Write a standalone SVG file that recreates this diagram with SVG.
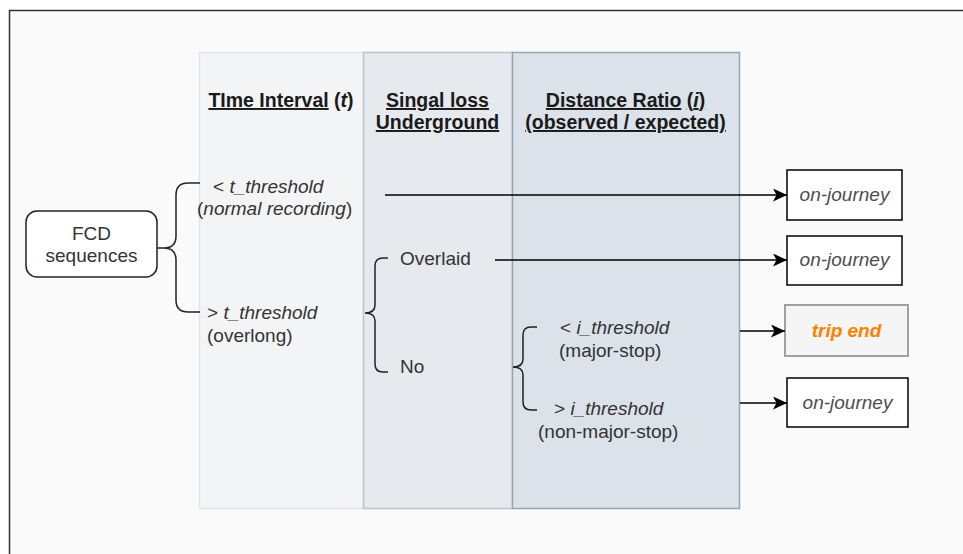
<svg xmlns="http://www.w3.org/2000/svg" width="963" height="554" viewBox="0 0 963 554">
<style>
text{font-family:"Liberation Sans",Arial,Helvetica,sans-serif;}
.hd{font-size:19.5px;font-weight:bold;fill:#1a1a1a;text-anchor:middle;}
.u{text-decoration:underline;}
.lb{font-size:19px;fill:#333;}
.it{font-style:italic;}
.br{fill:none;stroke:#222;stroke-width:1.5;}
.ln{fill:none;stroke:#000;stroke-width:1.5;}
.out{fill:#fff;stroke:#000;stroke-width:1.5;}
.oj{font-size:19px;font-style:italic;fill:#4d4d4d;text-anchor:middle;}
</style>
<defs>
<marker id="arr" markerUnits="userSpaceOnUse" markerWidth="16" markerHeight="14" refX="14" refY="6.5" orient="auto">
<path d="M0,0 L14,6.5 L0,13 L3.5,6.5 Z" fill="#000"/>
</marker>
</defs>
<rect x="0" y="0" width="963" height="554" fill="#fff"/>
<rect x="9.5" y="10.5" width="1000" height="600" fill="#fafafa" stroke="#333" stroke-width="1.5"/>
<g id="col-time">
<rect x="199.5" y="52.5" width="164" height="456" fill="#f3f4f6" stroke="#e1e4e8" stroke-width="1.5"/>
<text class="hd" x="281" y="107"><tspan class="u">TIme Interval</tspan> (<tspan font-style="italic">t</tspan>)</text>
</g>
<g id="col-signal">
<rect x="363.5" y="52.5" width="149" height="456" fill="#e6e9ee" stroke="#b8c4cf" stroke-width="1.5"/>
<text class="hd" x="437.5" y="107"><tspan class="u">Singal loss</tspan></text>
<text class="hd" x="437.5" y="129"><tspan class="u">Underground</tspan></text>
</g>
<g id="col-distance">
<rect x="512.5" y="52.5" width="227" height="456" fill="#dbe2e9" stroke="#92a6b8" stroke-width="1.5"/>
<text class="hd" x="625.5" y="107"><tspan class="u">Distance Ratio</tspan> <tspan class="u">(<tspan font-style="italic">i</tspan>)</tspan></text>
<text class="hd" x="625.5" y="129"><tspan class="u">(observed / expected)</tspan></text>
</g>
<g id="fcd">
<rect x="26" y="211" width="131" height="66" rx="11" ry="11" fill="#fff" stroke="#222" stroke-width="1.5"/>
<text class="lb" x="91.5" y="240" text-anchor="middle">FCD</text>
<text class="lb" x="91.5" y="262" text-anchor="middle">sequences</text>
</g>
<g id="labels-time">
<text class="lb" x="213" y="193">&lt; <tspan class="it">t_threshold</tspan></text>
<text class="lb" x="197" y="215">(<tspan class="it">normal recording</tspan>)</text>
<text class="lb" x="207" y="319">&gt; <tspan class="it">t_threshold</tspan></text>
<text class="lb" x="207" y="342">(overlong)</text>
</g>
<g id="labels-signal">
<text class="lb" x="400" y="265">Overlaid</text>
<text class="lb" x="400" y="373">No</text>
</g>
<g id="labels-distance">
<text class="lb" x="560" y="334">&lt; <tspan class="it">i_threshold</tspan></text>
<text class="lb" x="559" y="357">(major-stop)</text>
<text class="lb" x="554" y="415">&gt; <tspan class="it">i_threshold</tspan></text>
<text class="lb" x="538" y="438">(non-major-stop)</text>
</g>
<g id="out1">
<rect class="out" x="787" y="170" width="115" height="50"/>
<text class="oj" x="844.5" y="201">on-journey</text>
</g>
<g id="out2">
<rect class="out" x="787" y="236" width="115" height="49"/>
<text class="oj" x="844.5" y="266">on-journey</text>
</g>
<g id="out3">
<rect x="785" y="305" width="123" height="51" fill="#f5f5f5" stroke="#a0a0a0" stroke-width="2"/>
<text x="846.5" y="337" font-size="19" font-weight="bold" font-style="italic" fill="#ff8000" text-anchor="middle">trip end</text>
</g>
<g id="out4">
<rect class="out" x="787" y="378" width="121" height="49"/>
<text class="oj" x="847.5" y="409">on-journey</text>
</g>
<g id="connectors">
<path class="br" d="M157,248 H164 M200,183 H188 Q176,183 176,195 V236 Q176,248 164,248 Q176,248 176,260 V300 Q176,312 188,312 H200"/>
<path class="br" d="M388,258 H383 Q375,258 375,266 V305 Q375,313 365,313 Q375,313 375,321 V364 Q375,372 383,372 H388"/>
<path class="br" d="M537,327 H531 Q523,327 523,335 V359 Q523,367 513,367 Q523,367 523,375 V402 Q523,410 531,410 H537"/>
<line class="ln" x1="385" y1="195" x2="787" y2="195" marker-end="url(#arr)"/>
<line class="ln" x1="495" y1="260" x2="787" y2="260" marker-end="url(#arr)"/>
<line class="ln" x1="740" y1="331" x2="785" y2="331" marker-end="url(#arr)"/>
<line class="ln" x1="740" y1="403" x2="787" y2="403" marker-end="url(#arr)"/>
</g>
</svg>
